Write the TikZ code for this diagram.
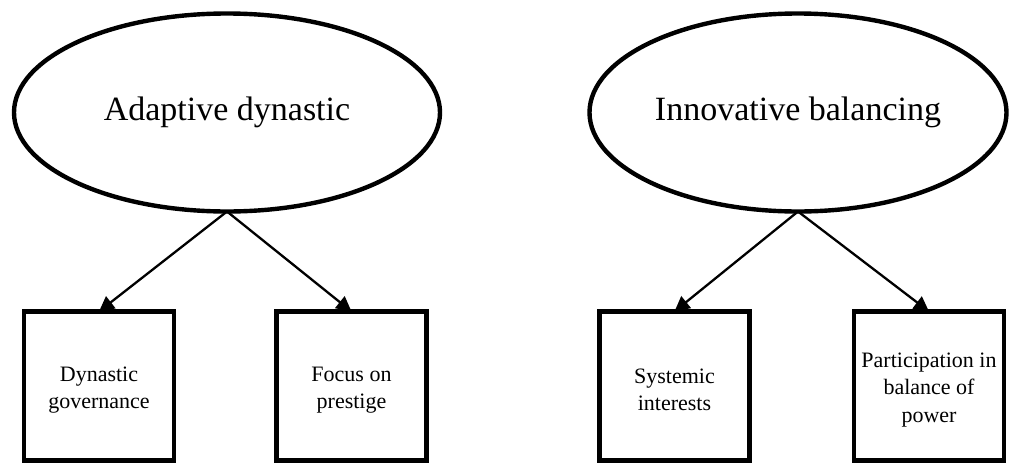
\documentclass[tikz,border=0pt]{standalone}
\usepackage{fontspec}
\setmainfont{Liberation Serif}
\usetikzlibrary{shapes.geometric,arrows.meta}
\begin{document}
\begin{tikzpicture}[x=1pt,y=-1pt,
  oval/.style={ellipse,draw,line width=4.4pt,inner sep=0pt,outer sep=0pt,font=\fontsize{34}{40}\selectfont},
  leaf/.style={rectangle,draw,line width=4.4pt,inner sep=0pt,outer sep=0pt,minimum width=150pt,minimum height=149pt},
  leaftext/.style={align=center,inner sep=0pt,font=\fontsize{22}{27.5}\selectfont},
  conn/.style={line width=2.3pt,-{Triangle[length=15pt,width=15pt]}}]
\useasboundingbox (0,0) rectangle (1010,464);
\node[oval,minimum width=426pt,minimum height=198pt] (ad) at (227,112.5) {Adaptive dynastic};
\node[oval,minimum width=417pt,minimum height=198pt] (ib) at (798,112.5) {Innovative balancing};
\node[leaf] (dg) at (99,386) {};
\node[leaf] (fp) at (351.5,386) {};
\node[leaf] (si) at (674.5,386) {};
\node[leaf] (pb) at (929,386) {};
\node[leaftext] (dgt) at ([yshift=-4pt]dg.center) {Dynastic\\governance};
\node[leaftext] (fpt) at ([yshift=-4pt]fp.center) {Focus on\\prestige};
\node[leaftext] (sit) at ([yshift=-4pt]si.center) {Systemic\\interests};
\node[leaftext] (pbt) at ([yshift=-4pt]pb.center) {Participation in\\balance of\\power};
\draw[conn] (ad.south) -- (dg.north);
\draw[conn] (ad.south) -- (fp.north);
\draw[conn] (ib.south) -- (si.north);
\draw[conn] (ib.south) -- (pb.north);
\end{tikzpicture}
\end{document}
